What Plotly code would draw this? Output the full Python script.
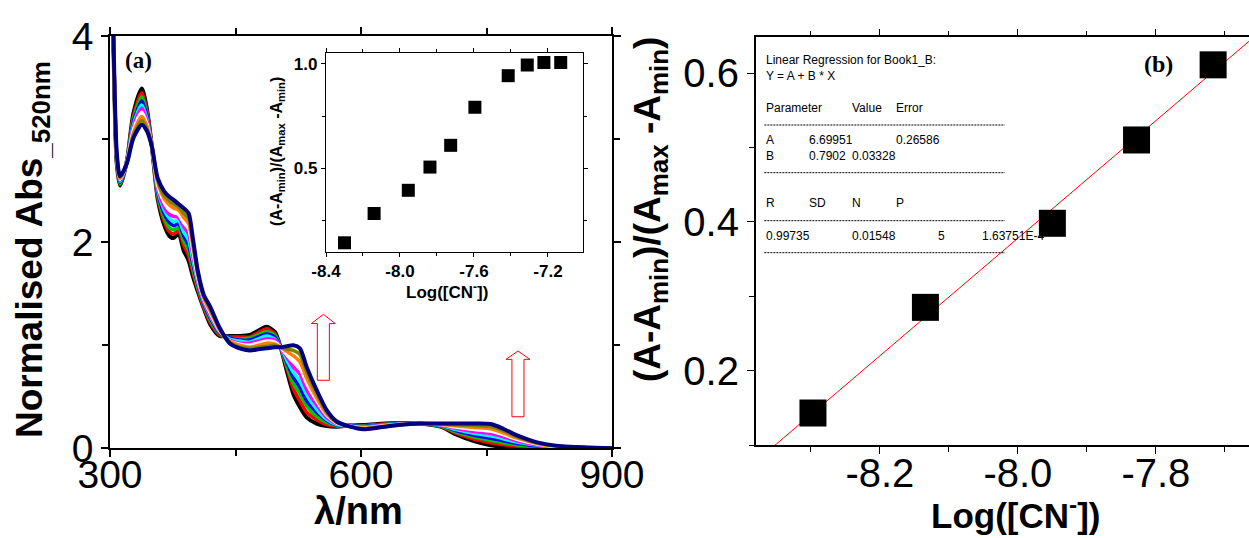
import plotly.graph_objects as go

W, H = 1249, 538

# ---------------- data: UV-vis spectra (panel a) ----------------
wavelength_nm = [300, 304, 308, 312, 320, 328, 338, 344, 350, 357, 365, 371, 376, 382, 388, 394, 399, 405, 412, 420,
                 431, 443, 455, 467, 477, 487, 497, 504, 511, 519, 527, 535, 547, 559, 571, 587, 603, 620, 645, 670,
                 695, 715, 735, 755, 770, 785, 800, 815, 840, 870, 900]

abs_black = [5.5, 3.95, 2.77, 2.55, 2.78, 3.25, 3.49, 3.30, 2.93, 2.42, 2.16, 2.06, 2.04, 2.08, 1.92, 1.82, 1.67, 1.52, 1.36, 1.20,
             1.09, 1.09, 1.09, 1.10, 1.14, 1.18, 1.13, 0.98, 0.76, 0.53, 0.40, 0.30, 0.24, 0.215, 0.21, 0.22, 0.225, 0.235, 0.245, 0.24,
             0.21, 0.13, 0.07, 0.03, 0.015, 0.008, 0.005, 0.003, 0.002, 0.001, 0]
abs_red = [5.5, 3.96, 2.78, 2.56, 2.78, 3.22, 3.45, 3.28, 2.93, 2.44, 2.20, 2.10, 2.08, 2.11, 1.97, 1.87, 1.71, 1.54, 1.37, 1.22,
           1.10, 1.08, 1.08, 1.08, 1.12, 1.16, 1.11, 0.98, 0.79, 0.58, 0.46, 0.35, 0.28, 0.23, 0.215, 0.22, 0.22, 0.231, 0.243, 0.24,
           0.213, 0.142, 0.089, 0.053, 0.034, 0.022, 0.014, 0.008, 0.004, 0.002, 0]
abs_green = [5.5, 3.97, 2.79, 2.57, 2.78, 3.20, 3.41, 3.25, 2.93, 2.46, 2.23, 2.14, 2.12, 2.14, 2.01, 1.92, 1.75, 1.56, 1.39, 1.24,
             1.11, 1.07, 1.06, 1.07, 1.10, 1.13, 1.10, 0.98, 0.81, 0.63, 0.53, 0.41, 0.31, 0.25, 0.22, 0.22, 0.216, 0.227, 0.241, 0.24,
             0.217, 0.154, 0.108, 0.076, 0.054, 0.035, 0.023, 0.013, 0.006, 0.003, 0]
abs_blue = [5.5, 3.98, 2.81, 2.58, 2.77, 3.17, 3.37, 3.23, 2.93, 2.49, 2.27, 2.19, 2.16, 2.18, 2.06, 1.97, 1.79, 1.59, 1.40, 1.26,
            1.12, 1.07, 1.05, 1.05, 1.08, 1.11, 1.08, 0.98, 0.84, 0.69, 0.59, 0.46, 0.35, 0.27, 0.225, 0.22, 0.212, 0.223, 0.238, 0.24,
            0.22, 0.167, 0.127, 0.098, 0.073, 0.049, 0.032, 0.019, 0.008, 0.003, 0]
abs_cyan = [5.5, 3.99, 2.82, 2.59, 2.77, 3.14, 3.33, 3.20, 2.93, 2.51, 2.31, 2.23, 2.20, 2.21, 2.10, 2.02, 1.83, 1.61, 1.42, 1.28,
            1.13, 1.06, 1.04, 1.03, 1.06, 1.09, 1.06, 0.98, 0.86, 0.74, 0.65, 0.52, 0.38, 0.28, 0.23, 0.215, 0.207, 0.219, 0.236, 0.24,
            0.223, 0.179, 0.146, 0.121, 0.093, 0.062, 0.041, 0.024, 0.01, 0.004, 0]
abs_magenta = [5.5, 4.01, 2.83, 2.60, 2.77, 3.12, 3.30, 3.18, 2.93, 2.53, 2.34, 2.27, 2.25, 2.24, 2.15, 2.08, 1.88, 1.63, 1.43, 1.29,
               1.13, 1.05, 1.02, 1.02, 1.04, 1.06, 1.05, 0.98, 0.89, 0.79, 0.72, 0.57, 0.42, 0.30, 0.24, 0.215, 0.203, 0.216, 0.234, 0.24,
               0.227, 0.191, 0.164, 0.144, 0.112, 0.076, 0.049, 0.029, 0.012, 0.005, 0]
abs_white = [5.5, 4.02, 2.84, 2.61, 2.77, 3.09, 3.26, 3.15, 2.93, 2.55, 2.38, 2.31, 2.29, 2.27, 2.19, 2.13, 1.92, 1.65, 1.45, 1.31,
             1.14, 1.04, 1.01, 1.00, 1.02, 1.04, 1.03, 0.98, 0.91, 0.84, 0.78, 0.63, 0.46, 0.32, 0.245, 0.215, 0.198, 0.212, 0.232, 0.24,
             0.23, 0.203, 0.183, 0.167, 0.132, 0.089, 0.058, 0.034, 0.014, 0.006, 0]
abs_orange = [5.5, 4.03, 2.85, 2.62, 2.76, 3.06, 3.22, 3.13, 2.93, 2.58, 2.42, 2.36, 2.33, 2.31, 2.24, 2.18, 1.96, 1.68, 1.46, 1.33,
              1.15, 1.04, 1.00, 0.98, 1.00, 1.02, 1.01, 0.98, 0.94, 0.90, 0.84, 0.68, 0.49, 0.335, 0.25, 0.21, 0.194, 0.208, 0.229, 0.24,
              0.233, 0.216, 0.202, 0.19, 0.151, 0.103, 0.067, 0.039, 0.016, 0.006, 0]
abs_olive = [5.5, 4.04, 2.87, 2.63, 2.76, 3.04, 3.18, 3.10, 2.93, 2.60, 2.45, 2.40, 2.37, 2.34, 2.28, 2.23, 2.00, 1.70, 1.48, 1.35,
             1.16, 1.03, 0.98, 0.97, 0.98, 0.99, 1.00, 0.98, 0.96, 0.95, 0.91, 0.74, 0.53, 0.35, 0.255, 0.21, 0.19, 0.204, 0.227, 0.24,
             0.237, 0.228, 0.221, 0.212, 0.171, 0.116, 0.076, 0.045, 0.018, 0.007, 0]
abs_navy = [5.5, 4.05, 2.88, 2.64, 2.76, 3.01, 3.14, 3.08, 2.93, 2.62, 2.49, 2.44, 2.41, 2.37, 2.33, 2.28, 2.04, 1.72, 1.49, 1.37,
            1.17, 1.02, 0.97, 0.95, 0.96, 0.97, 0.98, 0.98, 0.99, 1.00, 0.97, 0.79, 0.565, 0.37, 0.26, 0.21, 0.185, 0.20, 0.225, 0.24,
            0.24, 0.24, 0.24, 0.235, 0.19, 0.13, 0.085, 0.05, 0.02, 0.008, 0]

spectra = [abs_black, abs_red, abs_green, abs_blue, abs_cyan, abs_magenta, abs_white, abs_orange, abs_olive, abs_navy]
spectra_colors = ["#000000", "#ff0000", "#00c800", "#0000ff", "#00ffff", "#ff00ff", "#ffffff", "#ff8000", "#808000", "#000080"]

# ---------------- data: inset titration ----------------
inset_logcn = [-8.30, -8.14, -7.955, -7.838, -7.726, -7.595, -7.415, -7.312, -7.222, -7.131]
inset_ratio = [0.144, 0.284, 0.395, 0.506, 0.610, 0.792, 0.943, 0.994, 1.006, 1.006]

# ---------------- data: panel b linear fit ----------------
fit_logcn = [-8.297, -8.134, -7.950, -7.828, -7.717]
fit_ratio = [0.143, 0.285, 0.398, 0.510, 0.611]
fit_A = 6.69951
fit_B = 0.7902
fit_line_x = [-8.40, -7.60]

# tick labels
left_x_ticks = [300, 600, 900]
left_y_ticks = [0, 2, 4]
inset_x_ticks = [-8.4, -8.0, -7.6, -7.2]
inset_x_text = ["-8.4", "-8.0", "-7.6", "-7.2"]
inset_y_ticks = [0.5, 1.0]
inset_y_text = ["0.5", "1.0"]
right_x_ticks = [-8.2, -8.0, -7.8]
right_x_text = ["-8.2", "-8.0", "-7.8"]
right_y_ticks = [0.2, 0.4, 0.6]
right_y_text = ["0.2", "0.4", "0.6"]

SANS = "Liberation Sans, Arial, sans-serif"
SERIF = "Liberation Serif, Times New Roman, serif"


def px(x):
    return x / W


def py(y):
    return 1 - y / H


fig = go.Figure()

for vals, col in zip(spectra, spectra_colors):
    fig.add_trace(go.Scatter(x=wavelength_nm, y=vals, mode="lines",
                             line=dict(color=col, width=4 if col in ("#000000", "#000080") else 3.5,
                                       shape="spline", smoothing=0.7),
                             xaxis="x", yaxis="y", showlegend=False, hoverinfo="skip"))

fig.add_trace(go.Scatter(x=inset_logcn, y=inset_ratio, mode="markers",
                         marker=dict(symbol="square", size=13, color="black"),
                         xaxis="x2", yaxis="y2", showlegend=False, cliponaxis=False))

fit_line_y = [fit_A + fit_B * x for x in fit_line_x]
fig.add_trace(go.Scatter(x=fit_line_x, y=fit_line_y, mode="lines",
                         line=dict(color="red", width=1), xaxis="x3", yaxis="y3", showlegend=False))
fig.add_trace(go.Scatter(x=fit_logcn, y=fit_ratio, mode="markers",
                         marker=dict(symbol="square", size=27, color="black"),
                         xaxis="x3", yaxis="y3", showlegend=False, cliponaxis=False))

axis_common = dict(showgrid=False, zeroline=False, showline=True, linecolor="black",
                   ticks="outside", tickcolor="black", automargin=False)

fig.update_layout(
    template="none",
    width=W, height=H, autosize=False,
    margin=dict(l=0, r=0, t=0, b=0, pad=0),
    paper_bgcolor="white", plot_bgcolor="white",
    xaxis=dict(**axis_common, domain=[px(110), px(612)], range=[300, 900], anchor="y",
               linewidth=1.5, mirror="ticks", ticklen=7, tickwidth=1.5, ticklabelstandoff=-16,
               tickvals=left_x_ticks, ticktext=[str(v) for v in left_x_ticks],
               tickfont=dict(family=SANS, size=39, color="black"),
               minor=dict(tick0=300, dtick=150, ticklen=6, ticks="outside", tickcolor="black", tickwidth=1.5)),
    yaxis=dict(**axis_common, domain=[py(448.3), py(36)], range=[0, 4], anchor="x",
               linewidth=1.5, mirror="ticks", ticklen=7, tickwidth=1.5,
               tickvals=left_y_ticks, ticktext=[str(v) for v in left_y_ticks],
               tickfont=dict(family=SANS, size=39, color="black"),
               minor=dict(tick0=0, dtick=1, ticklen=6, ticks="outside", tickcolor="black", tickwidth=1.5)),
    xaxis2=dict(**axis_common, domain=[px(326), px(583.3)], range=[-8.4, -7.009], anchor="y2",
                linewidth=1.2, mirror="ticks", ticklen=4, tickwidth=1, ticklabelstandoff=-1,
                tickvals=inset_x_ticks, ticktext=inset_x_text,
                tickfont=dict(family=SANS, size=17, color="black", weight="bold"),
                minor=dict(tick0=-8.4, dtick=0.2, ticklen=3, ticks="outside", tickcolor="black")),
    yaxis2=dict(**axis_common, domain=[py(252), py(53.3)], range=[0.1, 1.05], anchor="x2",
                linewidth=1.2, mirror="ticks", ticklen=4, tickwidth=1,
                tickvals=inset_y_ticks, ticktext=inset_y_text,
                tickfont=dict(family=SANS, size=17, color="black", weight="bold"),
                minor=dict(tick0=0, dtick=0.25, ticklen=3, ticks="outside", tickcolor="black")),
    xaxis3=dict(**axis_common, domain=[px(755.7), 1.0], range=[-8.38, -7.665], anchor="y3",
                linewidth=1.5, mirror="ticks", ticklen=7, tickwidth=1.2, ticklabelstandoff=-15,
                tickvals=right_x_ticks, ticktext=right_x_text,
                tickfont=dict(family=SANS, size=40, color="black"),
                minor=dict(tick0=-8.2, dtick=0.1, ticklen=5, ticks="outside", tickcolor="black")),
    yaxis3=dict(**axis_common, domain=[py(445), py(37.3)], range=[0.1, 0.648], anchor="x3",
                linewidth=1.5, mirror=False, ticklen=7, tickwidth=1.2,
                tickvals=right_y_ticks, ticktext=right_y_text,
                tickfont=dict(family=SANS, size=40, color="black"),
                minor=dict(tick0=0, dtick=0.1, ticklen=5, ticks="outside", tickcolor="black")),
)

ann = []


def add_text(text, x, y, size, family=SANS, bold=False, angle=0, xanchor="center", yanchor="middle"):
    ann.append(dict(text=text, x=px(x), y=py(y), xref="paper", yref="paper", showarrow=False,
                    xanchor=xanchor, yanchor=yanchor, textangle=angle,
                    font=dict(family=family, size=size, color="black", weight="bold" if bold else "normal")))


# axis titles
add_text("Normalised Abs<sub>_520nm</sub>", 32, 250, 37, bold=True, angle=-90)
add_text("λ/nm", 358, 511, 38, bold=True)
add_text("(A-A<sub>min</sub>)/(A<sub>max</sub> -A<sub>min</sub>)", 650, 210, 37, bold=True, angle=-90)
add_text("Log([CN<sup>-</sup>])", 1016, 513, 35, bold=True)
add_text("Log([CN<sup>-</sup>])", 447, 291, 17, bold=True)
add_text("(A-A<sub>min</sub>)/(A<sub>max</sub> -A<sub>min</sub>)", 277, 152, 16, bold=True, angle=-90)

# panel labels
add_text("(a)", 138, 60, 23, family=SERIF, bold=True)
add_text("(b)", 1158, 64, 24, family=SERIF, bold=True)

# regression report
reg_rows = [
    (60, [(764.4, "Linear Regression for Book1_B:")]),
    (76, [(764.4, "Y = A + B * X")]),
    (108, [(764.4, "Parameter"), (850.2, "Value"), (893.7, "Error")]),
    (140, [(764.4, "A"), (807.1, "6.69951"), (893.7, "0.26586")]),
    (156, [(764.4, "B"), (807.1, "0.7902"), (850.2, "0.03328")]),
    (203, [(764.4, "R"), (807.1, "SD"), (850.2, "N"), (893.7, "P")]),
    (236, [(764.4, "0.99735"), (850.2, "0.01548"), (936.4, "5"), (980, "1.63751E-4")]),
]
for yy, cells in reg_rows:
    for xx, t in cells:
        add_text(t, xx, yy, 12, xanchor="left")

fig.update_layout(annotations=ann)

shapes = []
for yy in [125, 172.7, 220.7, 252.7]:
    shapes.append(dict(type="line", xref="paper", yref="paper", x0=px(764.4), x1=px(1004.8),
                       y0=py(yy), y1=py(yy), line=dict(color="black", width=1, dash="2px,1px")))

# hollow red arrows (decoration)
for cx, bottom, base, tip in [(555, 0.66, 1.21, 1.30), (787.6, 0.306, 0.863, 0.944)]:
    hw, HW = 7.2, 14.3
    path = (f"M {cx-hw},{bottom} L {cx+hw},{bottom} L {cx+hw},{base} L {cx+HW},{base} "
            f"L {cx},{tip} L {cx-HW},{base} L {cx-hw},{base} Z")
    shapes.append(dict(type="path", xref="x", yref="y", path=path,
                       line=dict(color="red", width=1), fillcolor="rgba(0,0,0,0)"))
fig.update_layout(shapes=shapes)

fig.write_html("out.html")
